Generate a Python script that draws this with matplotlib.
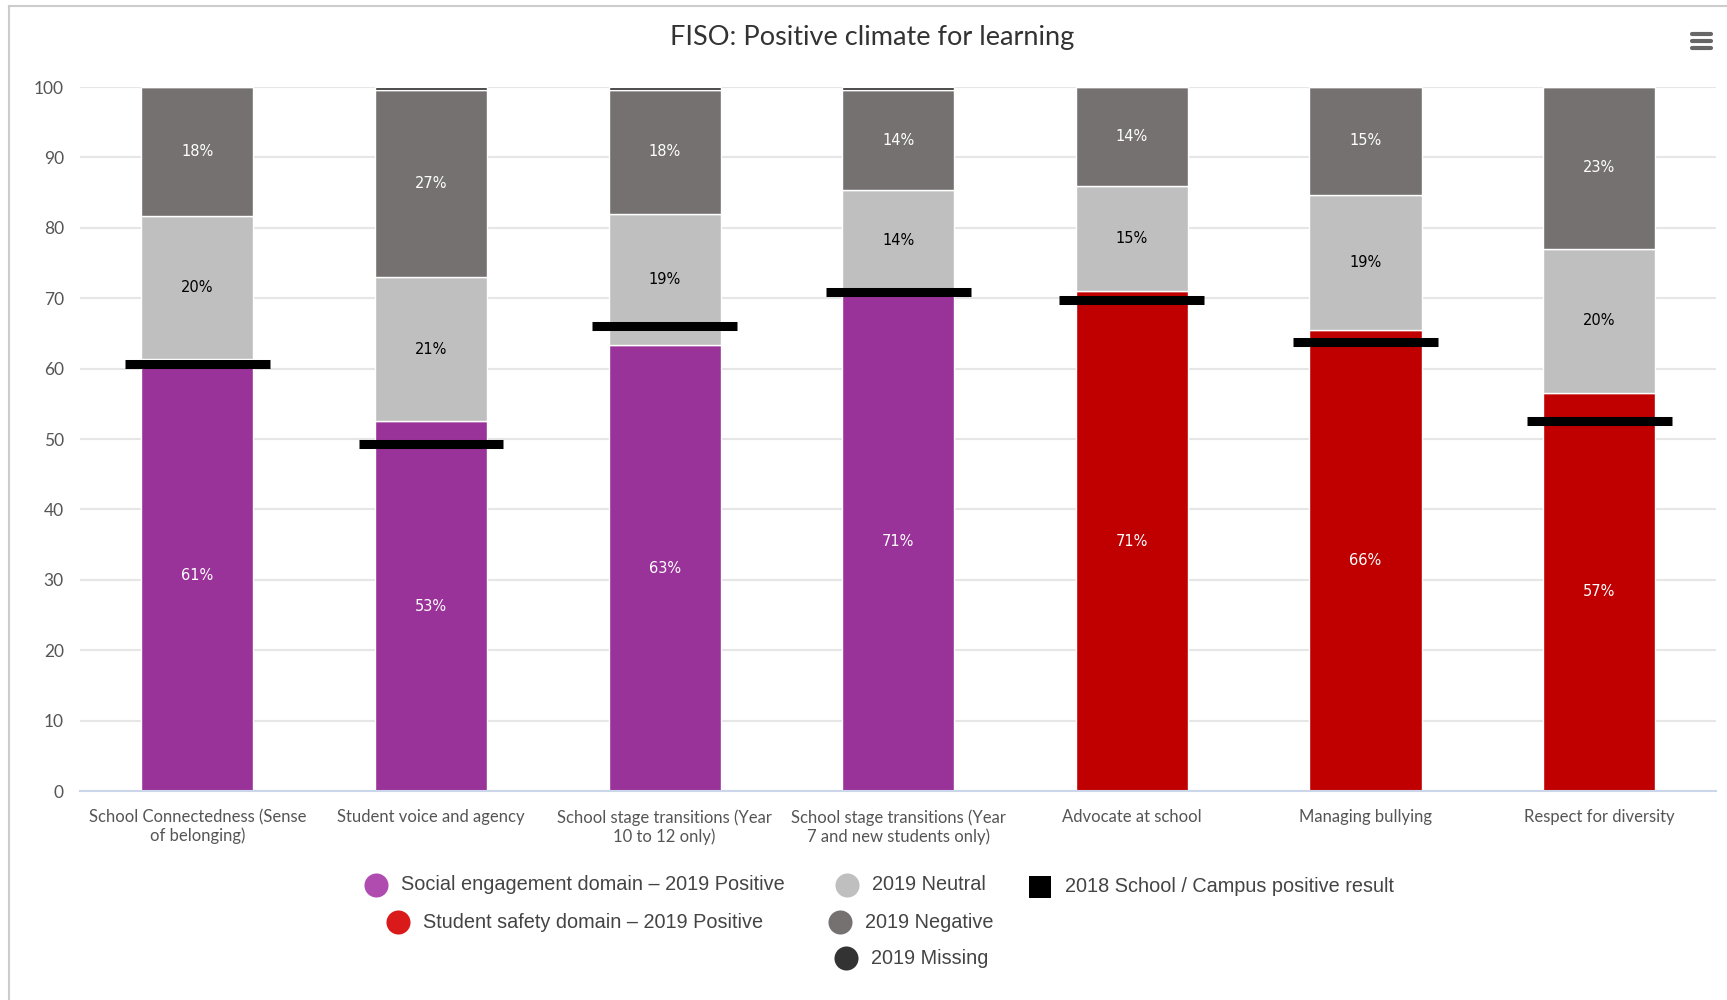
import numpy as np
import matplotlib
matplotlib.use("Agg")
import matplotlib.pyplot as plt

# chart data (percent of responses)
categories = [
    "School Connectedness (Sense\nof belonging)",
    "Student voice and agency",
    "School stage transitions (Year\n10 to 12 only)",
    "School stage transitions (Year\n7 and new students only)",
    "Advocate at school",
    "Managing bullying",
    "Respect for diversity",
]
positive = [61.3, 52.5, 63.3, 71.0, 71.0, 65.5, 56.6]
neutral = [20.4, 20.5, 18.7, 14.3, 14.9, 19.2, 20.4]
negative = [18.3, 26.6, 17.6, 14.3, 14.1, 15.3, 23.0]
missing = [0.0, 0.4, 0.4, 0.4, 0.0, 0.0, 0.0]
result_2018 = [60.7, 49.3, 66.0, 70.9, 69.8, 63.8, 52.6]
domain = ["social", "social", "social", "social", "safety", "safety", "safety"]

purple = "#993399"
red = "#c00000"
c_neutral = "#bfbfbf"
c_negative = "#767171"
c_missing = "#262626"

fig = plt.figure(figsize=(17.27, 10), dpi=100)
ax = fig.add_axes([0.0466, 0.209, 0.947, 0.704])

x = np.arange(len(categories))
w = 0.48
pos_colors = [purple if d == "social" else red for d in domain]
bottom = np.zeros(len(x))
stacks = [
    (positive, pos_colors, "white"),
    (neutral, c_neutral, "black"),
    (negative, c_negative, "white"),
    (missing, c_missing, None),
]
for vals, col, txt in stacks:
    vals = np.array(vals)
    ax.bar(x, vals, w, bottom=bottom, color=col, edgecolor="white", linewidth=1, zorder=2)
    if txt is not None:
        for xi, b, v in zip(x, bottom, vals):
            ax.text(xi, b + v / 2, f"{int(v + 0.5)}%", ha="center", va="center",
                    fontsize=10.5, color=txt, family="DejaVu Sans", zorder=4)
    bottom += vals

# 2018 results as black bars
ax.hlines(result_2018, x - 0.31, x + 0.31, color="black", linewidth=6.5, zorder=3)

ax.set_xlim(-0.5, len(x) - 0.5)
ax.set_ylim(0, 100)
ax.set_yticks(np.arange(0, 101, 10))
ax.set_xticks(x)
ax.set_xticklabels(categories, fontsize=12, color="#555555", family="Lato", linespacing=1.2)
for lab in ax.get_yticklabels():
    lab.set_family("Lato")
ax.tick_params(axis="y", length=0, pad=12, labelsize=12.5, labelcolor="#555555")
ax.tick_params(axis="x", length=0, pad=13)
ax.yaxis.grid(True, color="#e6e6e6", linewidth=1.5)
ax.set_axisbelow(True)
for s in ["top", "right", "left"]:
    ax.spines[s].set_visible(False)
ax.spines["bottom"].set_color("#ccd6eb")
ax.spines["bottom"].set_linewidth(1.5)
ax.spines["bottom"].set_zorder(5)

fig.text(0.505, 0.962, "FISO: Positive climate for learning", ha="center", va="center",
         fontsize=19.5, color="#333333", family="Lato")

# overlay in pixel coords for legend, border and menu icon
ov = fig.add_axes([0, 0, 1, 1])
ov.set_xlim(0, 1727)
ov.set_ylim(1000, 0)
ov.axis("off")

ov.plot([9, 9], [6, 1000], color="#cccccc", linewidth=1.5)
ov.plot([9, 1727], [6, 6], color="#cccccc", linewidth=1.5)
for yy in [34, 41, 48]:
    ov.plot([1692, 1711], [yy, yy], color="#666666", linewidth=3, solid_capstyle="round")

leg_labels = [
    "Social engagement domain \u2013 2019 Positive",
    "Student safety domain \u2013 2019 Positive",
    "2019 Neutral",
    "2019 Negative",
    "2019 Missing",
    "2018 School / Campus positive result",
]
leg_colors = ["#b04cb0", "#da1a1a", c_neutral, c_negative, "#333333", "black"]
leg_markers = ["o", "o", "o", "o", "o", "s"]
leg_xy = [(376, 885), (398, 922), (847, 885), (840, 922), (846, 958), (1040, 887)]
for lab, col, mk, (mx, my) in zip(leg_labels, leg_colors, leg_markers, leg_xy):
    ov.scatter([mx], [my], s=300 if mk == "o" else 260, marker=mk, color=col, linewidths=0)
    ov.text(mx + 25, my, lab, ha="left", va="center", fontsize=14.3, color="#444444",
            family="Liberation Sans")

fig.savefig("out.png", dpi=100, facecolor="white")
